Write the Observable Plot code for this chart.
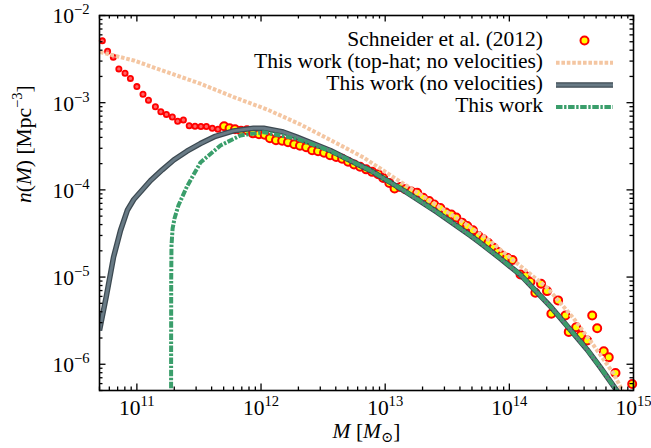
<!DOCTYPE html>
<html><head><meta charset="utf-8">
<script src="https://cdn.jsdelivr.net/npm/d3@7"></script>
<script src="https://cdn.jsdelivr.net/npm/@observablehq/plot@0.6"></script>
<style>
html,body{margin:0;padding:0;background:#fff;}
#chart{width:651px;height:448px;}
</style></head><body><div id="chart"></div>
<script>
const FONT = '"Liberation Serif", "Times New Roman", "DejaVu Serif", serif';

// Schneider et al. (2012) measurements
const schneiderM = [5.27e10,5.81e10,6.46e10,7.16e10,8.03e10,8.87e10,1.00e11,1.12e11,1.24e11,1.41e11,
  1.56e11,1.73e11,1.93e11,2.13e11,2.37e11,2.64e11,2.94e11,3.28e11,3.63e11,4.05e11,
  4.50e11,5.04e11,5.58e11,6.17e11,6.90e11,7.71e11,8.61e11,9.63e11,1.07e12,1.18e12,
  1.32e12,1.48e12,1.65e12,1.85e12,2.06e12,2.31e12,2.58e12,2.88e12,3.22e12,3.60e12,
  4.03e12,4.50e12,5.03e12,5.62e12,6.28e12,7.03e12,7.85e12,8.78e12,9.64e12,1.08e13,
  1.19e13,1.32e13,1.45e13,1.62e13,1.81e13,2.02e13,2.26e13,2.48e13,2.78e13,3.08e13,
  3.41e13,3.74e13,4.16e13,4.58e13,5.09e13,5.65e13,6.17e13,6.77e13,7.47e13,8.07e13,
  8.73e13,9.58e13,1.06e14,1.23e14,1.35e14,1.48e14,1.62e14,1.80e14,2.01e14,2.18e14,
  2.47e14,2.83e14,3.01e14,3.45e14,3.77e14,4.24e14,4.65e14,5.10e14,5.76e14,6.32e14,7.16e14,9.76e14];
const schneiderN = [5.12e-3,3.89e-3,3.33e-3,2.44e-3,2.18e-3,1.90e-3,1.53e-3,1.25e-3,1.07e-3,9.0e-4,
  7.88e-4,7.34e-4,6.85e-4,6.13e-4,6.32e-4,5.44e-4,5.37e-4,5.34e-4,5.34e-4,5.09e-4,
  4.95e-4,5.37e-4,5.09e-4,4.95e-4,4.76e-4,4.83e-4,4.45e-4,4.35e-4,4.29e-4,3.91e-4,
  3.71e-4,3.66e-4,3.51e-4,3.33e-4,3.20e-4,3.08e-4,2.85e-4,2.77e-4,2.66e-4,2.49e-4,
  2.39e-4,2.27e-4,2.10e-4,1.96e-4,1.84e-4,1.72e-4,1.61e-4,1.51e-4,1.37e-4,1.20e-4,
  1.04e-4,1.08e-4,1.02e-4,9.6e-5,9.24e-5,8.1e-5,7.47e-5,6.81e-5,6.21e-5,5.51e-5,
  5.22e-5,4.83e-5,4.21e-5,3.85e-5,3.44e-5,2.96e-5,2.71e-5,2.46e-5,2.17e-5,1.94e-5,
  1.77e-5,1.67e-5,1.57e-5,1.07e-5,1.03e-5,8.83e-6,6.60e-6,8.38e-6,6.90e-6,3.79e-6,
  5.40e-6,3.63e-6,2.35e-6,2.66e-6,2.15e-6,1.87e-6,3.63e-6,2.59e-6,1.41e-6,1.20e-6,7.94e-7,5.94e-7];

// This work (top-hat; no velocities)
const topHatM = [5.05e10,9.44e10,1.75e11,3.25e11,6.03e11,1.12e12,2.08e12,3.62e12,6.71e12,1.16e13,
  2.17e13,4.03e13,6.62e13,1.08e14,2.01e14,3.30e14,4.78e14,6.92e14,8.13e14,8.75e14];
const topHatN = [3.81e-3,3.05e-3,2.24e-3,1.65e-3,1.16e-3,8.36e-4,5.62e-4,3.73e-4,2.35e-4,1.40e-4,
  7.91e-5,4.46e-5,2.75e-5,1.55e-5,7.60e-6,3.35e-6,1.64e-6,7.78e-7,5.0e-7,4.06e-7];

// This work (no velocities)
const noVelM = [5.0e10,5.69e10,6.48e10,7.38e10,8.40e10,9.44e10,1.29e11,1.60e11,1.98e11,2.53e11,
  3.25e11,4.29e11,6.0e11,8.69e11,1.05e12,1.51e12,1.95e12,3.62e12,6.71e12,7.60e12,1.41e13,
  2.62e13,4.85e13,5.85e13,8.47e13,1.23e14,2.18e14,2.99e14,4.22e14,5.41e14,7.41e14,8.60e14];
const noVelN = [2.44e-6,6.15e-6,1.68e-5,3.42e-5,5.88e-5,7.76e-5,1.28e-4,1.70e-4,2.20e-4,2.78e-4,
  3.40e-4,4.12e-4,4.75e-4,5.10e-4,5.10e-4,4.61e-4,4.02e-4,2.83e-4,1.82e-4,1.67e-4,9.84e-5,
  5.55e-5,3.00e-5,2.46e-5,1.63e-5,1.06e-5,4.48e-6,2.64e-6,1.48e-6,9.19e-7,4.88e-7,3.37e-7];

// This work
const thisWorkM = [1.886e11,1.888e11,1.89e11,1.90e11,1.94e11,2.01e11,2.16e11,2.53e11,3.25e11,4.71e11,
  6.82e11,1.05e12,1.95e12,3.62e12,6.71e12,7.60e12,1.41e13,2.62e13,4.85e13,5.85e13,
  8.47e13,1.23e14,2.18e14,2.99e14,4.22e14,5.41e14,7.41e14,8.60e14];
const thisWorkN = [3.85e-7,2.44e-6,9.14e-6,2.30e-5,3.61e-5,4.70e-5,6.62e-5,1.09e-4,2.06e-4,3.23e-4,
  4.21e-4,4.59e-4,3.85e-4,2.80e-4,1.82e-4,1.67e-4,9.84e-5,5.55e-5,3.00e-5,2.46e-5,
  1.63e-5,1.06e-5,4.48e-6,2.64e-6,1.48e-6,9.19e-7,4.88e-7,3.37e-7];

const xDomain = [5e10, 1e15];
const yDomain = [5e-7, 1e-2];
const xTickValues = [1e11, 1e12, 1e13, 1e14, 1e15];
const xTickLabels = ["10^11", "10^12", "10^13", "10^14", "10^15"];
const yTickValues = [1e-6, 1e-5, 1e-4, 1e-3, 1e-2];
const yTickLabels = ["10^−6", "10^−5", "10^−4", "10^−3", "10^−2"];
const legendLabels = ["Schneider et al. (2012)", "This work (top-hat; no velocities)", "This work (no velocities)", "This work"];
const xLabelText = "M [M⊙]";
const yLabelText = "n(M) [Mpc−3]";
const xLabelParts = [{t:"M", it:true},{t:" ["},{t:"M", it:true},{t:"⊙", sub:true},{t:"]"}];
const yLabelParts = [{t:"n", it:true},{t:"("},{t:"M", it:true},{t:") [Mpc"},{t:"−3", sup:true},{t:"]"}];

const zip = (ms, ns) => ms.map((M, i) => ({M, n: ns[i]}));
const schneider = zip(schneiderM, schneiderN);
const topHat = zip(topHatM, topHatN);
const noVel = zip(noVelM, noVelN);
const thisWork = zip(thisWorkM, thisWorkN);
const xTicks = xTickValues.map((v, i) => ({v, label: xTickLabels[i]}));
const yTicks = yTickValues.map((v, i) => ({v, label: yTickLabels[i]}));

const isPow = v => Math.abs(Math.log10(v) - Math.round(Math.log10(v))) < 1e-9;
const xMinor = d3.scaleLog().domain(xDomain).ticks().filter(v => !isPow(v));
const yMinor = d3.scaleLog().domain(yDomain).ticks().filter(v => !isPow(v));

const W = 651, H = 448, mL = 99, mR = 18, mT = 15, mB = 58;
const fw = W - mL - mR, fh = H - mT - mB;
const FS = 21.5;

const C = {
  red: "#ff0000", yellow: "#ffff00", smallFill: "#ff6464",
  peach: "#f4c6a2", grayOuter: "#3c4951", grayInner: "#687a85", green: "#3a9e6b"
};
const peachDash = "3.6,1.8", greenDash = "6.5,1.6,2.4,1.6";
const smallCut = 4.8e11;

const tickStyle = {stroke: "black", strokeWidth: 1.3};
const svg = Plot.plot({
  width: W, height: H,
  marginLeft: mL, marginRight: mR, marginTop: mT, marginBottom: mB,
  style: {fontFamily: FONT, background: "white", color: "black"},
  x: {type: "log", domain: xDomain, axis: null},
  y: {type: "log", domain: yDomain, axis: null},
  marks: [
    Plot.dot(schneider, {x: "M", y: "n", r: 2.6, stroke: C.red, strokeWidth: 1.8, fill: C.smallFill, filter: d => d.M < smallCut}),
    Plot.dot(schneider, {x: "M", y: "n", r: 4, stroke: C.red, strokeWidth: 2, fill: C.yellow, filter: d => d.M >= smallCut}),
    Plot.line(topHat, {x: "M", y: "n", stroke: C.peach, strokeWidth: 4, strokeDasharray: peachDash, strokeLinecap: "butt", clip: true}),
    Plot.line(noVel, {x: "M", y: "n", stroke: C.grayOuter, strokeWidth: 5.5, strokeLinecap: "butt", clip: true}),
    Plot.line(noVel, {x: "M", y: "n", stroke: C.grayInner, strokeWidth: 3, strokeLinecap: "butt", clip: true}),
    Plot.line(thisWork, {x: "M", y: "n", stroke: C.green, strokeWidth: 4, strokeDasharray: greenDash, strokeLinecap: "butt", clip: true}),
    // ticks (inward, mirrored)
    Plot.tickX(xTickValues, {x: d => d, insetTop: fh - 6.5, ...tickStyle}),
    Plot.tickX(xTickValues, {x: d => d, insetBottom: fh - 6.5, ...tickStyle}),
    Plot.tickX(xMinor, {x: d => d, insetTop: fh - 3.5, ...tickStyle}),
    Plot.tickX(xMinor, {x: d => d, insetBottom: fh - 3.5, ...tickStyle}),
    Plot.tickY(yTickValues, {y: d => d, insetRight: fw - 6.5, ...tickStyle}),
    Plot.tickY(yTickValues, {y: d => d, insetLeft: fw - 6.5, ...tickStyle}),
    Plot.tickY(yMinor, {y: d => d, insetRight: fw - 3.5, ...tickStyle}),
    Plot.tickY(yMinor, {y: d => d, insetLeft: fw - 3.5, ...tickStyle}),
    Plot.frame({stroke: "black", strokeWidth: 1.6}),
    // tick labels
    Plot.text(xTicks, {x: "v", frameAnchor: "bottom", lineAnchor: "top", dy: 9, text: "label", fontSize: FS, fill: "black"}),
    Plot.text(yTicks, {y: "v", frameAnchor: "left", textAnchor: "end", dx: -10, dy: 1, text: "label", fontSize: FS, fill: "black"}),
    // axis labels
    Plot.text([0], {frameAnchor: "bottom", dy: 47, text: () => xLabelText, fontSize: FS, fill: "black"}),
    Plot.text([0], {frameAnchor: "left", rotate: -90, dx: -75, text: () => yLabelText, fontSize: FS, fill: "black"})
  ]
});

const NS = "http://www.w3.org/2000/svg";
function rich(el, parts, size) {
  while (el.firstChild) el.removeChild(el.firstChild);
  let shift = 0;
  for (const p of parts) {
    const ts = document.createElementNS(NS, "tspan");
    const target = p.sup ? -0.42 * size : p.sub ? 0.22 * size : 0;
    if (target !== shift) { ts.setAttribute("dy", target - shift); shift = target; }
    if (p.sup || p.sub) ts.setAttribute("font-size", size * 0.68);
    if (p.it) ts.setAttribute("font-style", "italic");
    ts.textContent = p.t;
    el.appendChild(ts);
  }
}
const powParts = s => { const [b, e] = s.split("^"); return [{t: b}, {t: e, sup: true}]; };
svg.querySelectorAll("text").forEach(el => {
  const s = el.textContent;
  if (s.includes("^")) rich(el, powParts(s), FS);
  else if (s === xLabelText) rich(el, xLabelParts, FS);
  else if (s === yLabelText) rich(el, yLabelParts, FS);
});

// legend (top-right, inside frame)
const leg = d3.select(svg).append("g").attr("font-family", FONT).attr("font-size", FS);
const rowY = i => 40.5 + i * 22.2;
const textRight = 543, s0 = 556, s1 = 613;
legendLabels.forEach((lab, i) => {
  leg.append("text").attr("x", textRight).attr("y", rowY(i) + 5.3).attr("text-anchor", "end").attr("fill", "black").text(lab);
});
leg.append("circle").attr("cx", (s0 + s1) / 2).attr("cy", rowY(0)).attr("r", 4).attr("fill", C.yellow).attr("stroke", C.red).attr("stroke-width", 2);
leg.append("line").attr("x1", s0).attr("x2", s1).attr("y1", rowY(1)).attr("y2", rowY(1)).attr("stroke", C.peach).attr("stroke-width", 4).attr("stroke-dasharray", peachDash);
leg.append("line").attr("x1", s0).attr("x2", s1).attr("y1", rowY(2)).attr("y2", rowY(2)).attr("stroke", C.grayOuter).attr("stroke-width", 5.5);
leg.append("line").attr("x1", s0).attr("x2", s1).attr("y1", rowY(2)).attr("y2", rowY(2)).attr("stroke", C.grayInner).attr("stroke-width", 3);
leg.append("line").attr("x1", s0).attr("x2", s1).attr("y1", rowY(3)).attr("y2", rowY(3)).attr("stroke", C.green).attr("stroke-width", 4).attr("stroke-dasharray", greenDash);

document.getElementById("chart").appendChild(svg);
</script></body></html>
